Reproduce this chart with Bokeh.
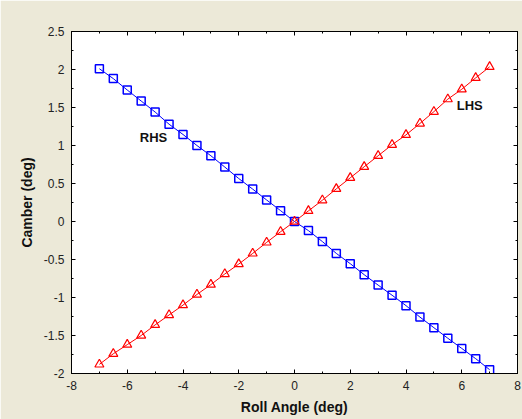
from bokeh.plotting import figure
from bokeh.models import Range1d, FixedTicker, LinearAxis, ColumnDataSource, CustomLabelingPolicy
from bokeh.core.properties import value
from bokeh.embed import file_html
from bokeh.resources import INLINE

# ---- data ----
roll_angle = [-7, -6.5, -6, -5.5, -5, -4.5, -4, -3.5, -3, -2.5, -2, -1.5, -1, -0.5,
              0, 0.5, 1, 1.5, 2, 2.5, 3, 3.5, 4, 4.5, 5, 5.5, 6, 6.5, 7]
rhs_camber = [2.01, 1.88, 1.73, 1.585, 1.44, 1.28, 1.145, 1.0, 0.865, 0.716, 0.565, 0.426,
              0.283, 0.143, 0.0, -0.12, -0.264, -0.42, -0.555, -0.70, -0.837, -0.97,
              -1.107, -1.258, -1.397, -1.536, -1.67, -1.805, -1.95]
lhs_camber = [-1.88, -1.74, -1.62, -1.50, -1.36, -1.23, -1.10, -0.96, -0.83, -0.69, -0.56,
              -0.42, -0.275, -0.135, 0.0, 0.14, 0.28, 0.43, 0.575, 0.72, 0.865, 1.01,
              1.14, 1.29, 1.445, 1.61, 1.74, 1.89, 2.035]
x_ticks = [-8, -6, -4, -2, 0, 2, 4, 6, 8]
x_minor = [-7, -5, -3, -1, 1, 3, 5, 7]
x_tick_labels = ["-8", "-6", "-4", "-2", "0", "2", "4", "6", "8"]
y_ticks = [-2, -1.5, -1, -0.5, 0, 0.5, 1, 1.5, 2, 2.5]
y_minor = [-1.75, -1.25, -0.75, -0.25, 0.25, 0.75, 1.25, 1.75, 2.25]
y_tick_labels = ["-2", "-1.5", "-1", "-0.5", "0", "0.5", "1", "1.5", "2", "2.5"]
series_labels = ["RHS", "LHS"]
label_x = [-5.55, 5.82]
label_y = [1.1, 1.53]

BG = "#ece9d8"
FONT = "Liberation Sans"

p = figure(width=522, height=419, output_backend="svg", toolbar_location=None,
           x_range=Range1d(-8, 8), y_range=Range1d(-2, 2.5),
           background_fill_color="white", border_fill_color=BG,
           min_border_left=71, min_border_top=31, min_border_right=4, min_border_bottom=46,
           x_axis_label="Roll Angle (deg)", y_axis_label="Camber (deg)")
p.grid.visible = False
p.outline_line_color = "black"
p.outline_line_width = 1

src = ColumnDataSource(dict(x=roll_angle, rhs=rhs_camber, lhs=lhs_camber))

p.line("x", "rhs", source=src, line_color="#0000ff", line_width=1)
p.scatter("x", "rhs", source=src, marker="square", size=8, fill_color=None,
          line_color="#0000ff", line_width=1.5)
p.line("x", "lhs", source=src, line_color="#ff0000", line_width=1)
p.scatter("x", "lhs", source=src, marker="triangle", size=9, fill_color=None,
          line_color="#ff0000", line_width=1.2)

tsrc = ColumnDataSource(dict(x=label_x, y=label_y, t=series_labels))
p.text("x", "y", text="t", source=tsrc, text_font=value(FONT), text_font_style="bold",
       text_font_size="13px", text_align="left", text_baseline="middle", text_color="#111111")

# axes
x_overrides = {v: s for v, s in zip(x_ticks, x_tick_labels)}
y_overrides = {v: s for v, s in zip(y_ticks, y_tick_labels)}

hide_all = CustomLabelingPolicy(code="""
    for (const i of Array.from(indices)) { indices.unset(i) }
    return indices
""")

def style(ax, ticks, minor, overrides, show_labels):
    ax.ticker = FixedTicker(ticks=ticks, minor_ticks=minor)
    ax.major_label_overrides = overrides
    ax.axis_line_color = "black"
    ax.major_tick_line_color = "black"
    ax.minor_tick_line_color = "black"
    ax.major_tick_in = 4
    ax.major_tick_out = 0
    ax.minor_tick_in = 2
    ax.minor_tick_out = 0
    ax.major_label_text_font = FONT
    ax.major_label_text_color = "#222222"
    if show_labels:
        ax.major_label_text_font_size = "12px"
        ax.major_label_standoff = 7
        ax.axis_label_text_font = FONT
        ax.axis_label_text_font_style = "bold"
        ax.axis_label_text_font_size = "14px"
        ax.axis_label_text_color = "#111111"
        ax.axis_label_standoff = 6
    else:
        ax.major_label_policy = hide_all
        ax.major_label_text_font_size = "1px"
        ax.major_label_standoff = 0

style(p.xaxis[0], x_ticks, x_minor, x_overrides, True)
style(p.yaxis[0], y_ticks, y_minor, y_overrides, True)

top = LinearAxis()
style(top, x_ticks, x_minor, x_overrides, False)
p.add_layout(top, "above")
right = LinearAxis()
style(right, y_ticks, y_minor, y_overrides, False)
p.add_layout(right, "right")

open("out.html", "w").write(file_html(p, INLINE))
